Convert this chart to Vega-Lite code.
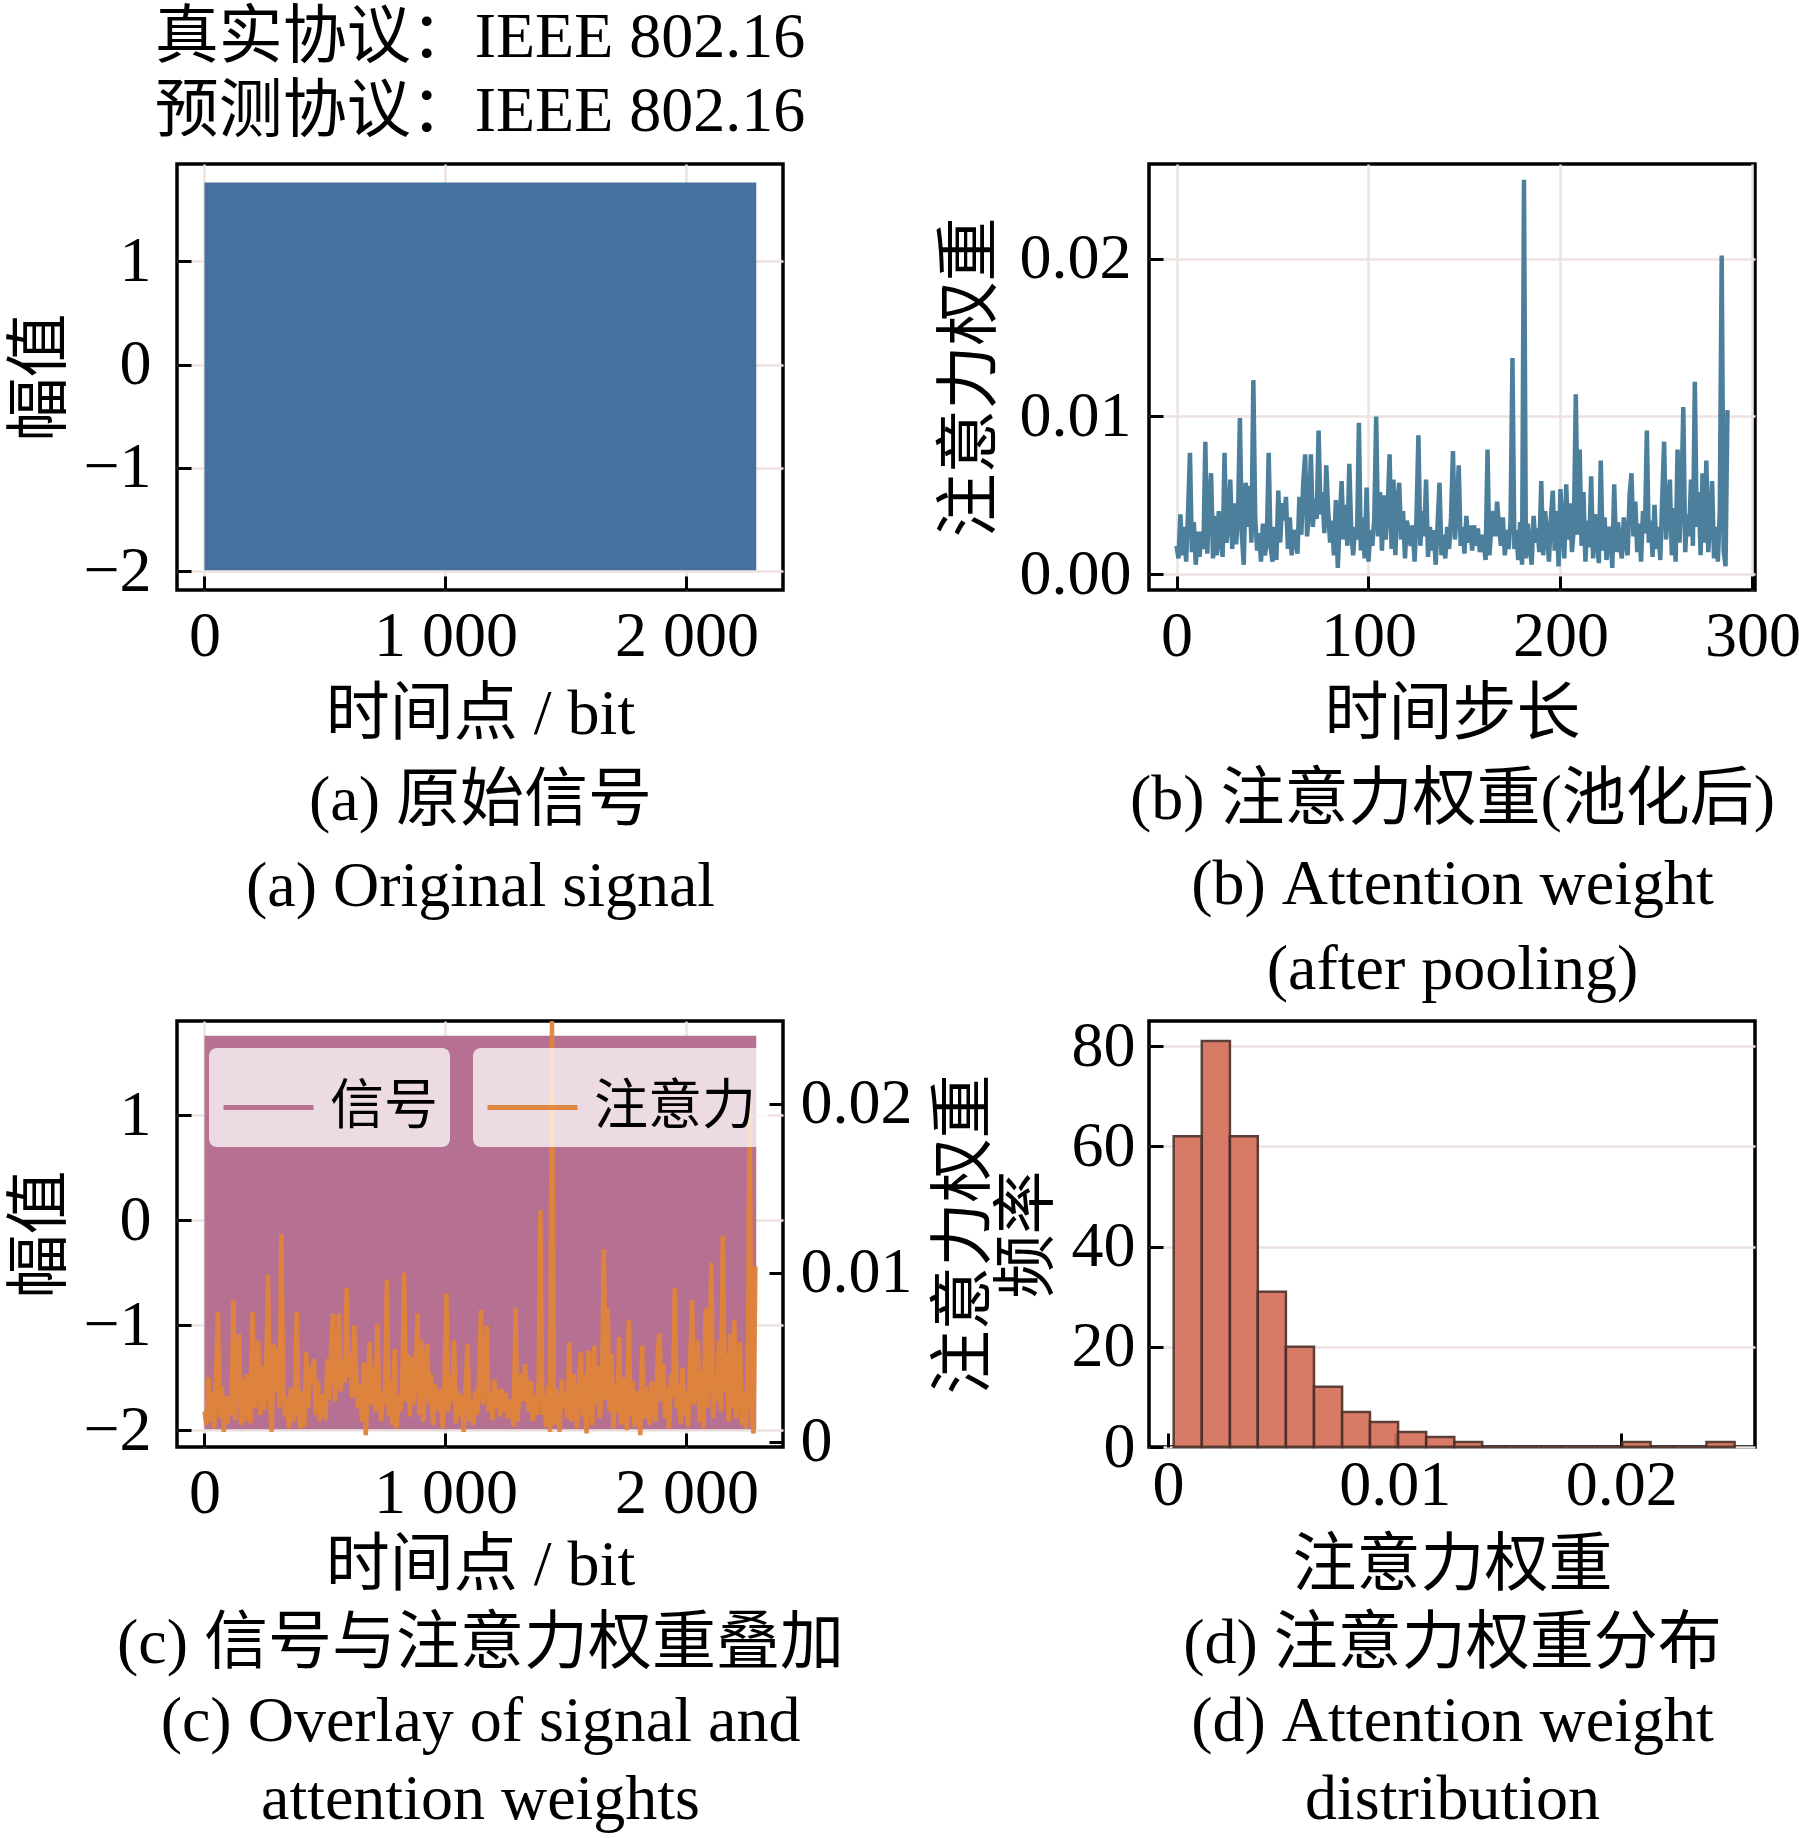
{
  "$schema": "https://vega.github.io/schema/vega-lite/v6.json",
  "background": "white",
  "padding": {"left": 6, "top": 4, "right": 0, "bottom": 0},
  "columns": 2,
  "spacing": {"column": 366, "row": 431},
  "bounds": "flush",
  "resolve": {"legend": {"fill": "independent", "stroke": "independent"}},
  "datasets": {
    "sig": [
      {"t": 0, "lo": -1.99, "hi": 1.76},
      {"t": 2290, "lo": -1.99, "hi": 1.76}
    ],
    "attn": [
      {"s":0,"w":0.0018},{"s":1,"w":0.0010},{"s":2,"w":0.0038},{"s":3,"w":0.0012},{"s":4,"w":0.0030},
      {"s":5,"w":0.0008},{"s":6,"w":0.0040},{"s":7,"w":0.0077},{"s":8,"w":0.0014},{"s":9,"w":0.0033},
      {"s":10,"w":0.0006},{"s":11,"w":0.0027},{"s":12,"w":0.0011},{"s":13,"w":0.0027},{"s":14,"w":0.0016},
      {"s":15,"w":0.0084},{"s":16,"w":0.0013},{"s":17,"w":0.0044},{"s":18,"w":0.0064},{"s":19,"w":0.0010},
      {"s":20,"w":0.0037},{"s":21,"w":0.0012},{"s":22,"w":0.0040},{"s":23,"w":0.0022},{"s":24,"w":0.0011},
      {"s":25,"w":0.0077},{"s":26,"w":0.0020},{"s":27,"w":0.0030},{"s":28,"w":0.0060},{"s":29,"w":0.0016},
      {"s":30,"w":0.0045},{"s":31,"w":0.0019},{"s":32,"w":0.0035},{"s":33,"w":0.0099},{"s":34,"w":0.0025},
      {"s":35,"w":0.0006},{"s":36,"w":0.0058},{"s":37,"w":0.0030},{"s":38,"w":0.0056},{"s":39,"w":0.0020},
      {"s":40,"w":0.0123},{"s":41,"w":0.0035},{"s":42,"w":0.0015},{"s":43,"w":0.0026},{"s":44,"w":0.0008},
      {"s":45,"w":0.0032},{"s":46,"w":0.0012},{"s":47,"w":0.0020},{"s":48,"w":0.0077},{"s":49,"w":0.0017},
      {"s":50,"w":0.0008},{"s":51,"w":0.0030},{"s":52,"w":0.0009},{"s":53,"w":0.0053},{"s":54,"w":0.0020},
      {"s":55,"w":0.0045},{"s":56,"w":0.0034},{"s":57,"w":0.0049},{"s":58,"w":0.0016},{"s":59,"w":0.0036},
      {"s":60,"w":0.0012},{"s":61,"w":0.0028},{"s":62,"w":0.0024},{"s":63,"w":0.0013},{"s":64,"w":0.0049},
      {"s":65,"w":0.0025},{"s":66,"w":0.0058},{"s":67,"w":0.0076},{"s":68,"w":0.0024},{"s":69,"w":0.0040},
      {"s":70,"w":0.0076},{"s":71,"w":0.0030},{"s":72,"w":0.0048},{"s":73,"w":0.0035},{"s":74,"w":0.0091},
      {"s":75,"w":0.0038},{"s":76,"w":0.0052},{"s":77,"w":0.0026},{"s":78,"w":0.0069},{"s":79,"w":0.0040},
      {"s":80,"w":0.0020},{"s":81,"w":0.0034},{"s":82,"w":0.0012},{"s":83,"w":0.0047},{"s":84,"w":0.0004},
      {"s":85,"w":0.0033},{"s":86,"w":0.0059},{"s":87,"w":0.0022},{"s":88,"w":0.0044},{"s":89,"w":0.0018},
      {"s":90,"w":0.0070},{"s":91,"w":0.0028},{"s":92,"w":0.0012},{"s":93,"w":0.0030},{"s":94,"w":0.0022},
      {"s":95,"w":0.0096},{"s":96,"w":0.0015},{"s":97,"w":0.0036},{"s":98,"w":0.0010},{"s":99,"w":0.0055},
      {"s":100,"w":0.0008},{"s":101,"w":0.0028},{"s":102,"w":0.0018},{"s":103,"w":0.0035},{"s":104,"w":0.0100},
      {"s":105,"w":0.0024},{"s":106,"w":0.0052},{"s":107,"w":0.0015},{"s":108,"w":0.0050},{"s":109,"w":0.0022},
      {"s":110,"w":0.0042},{"s":111,"w":0.0076},{"s":112,"w":0.0016},{"s":113,"w":0.0060},{"s":114,"w":0.0012},
      {"s":115,"w":0.0045},{"s":116,"w":0.0058},{"s":117,"w":0.0022},{"s":118,"w":0.0040},{"s":119,"w":0.0010},
      {"s":120,"w":0.0034},{"s":121,"w":0.0026},{"s":122,"w":0.0018},{"s":123,"w":0.0031},{"s":124,"w":0.0008},
      {"s":125,"w":0.0036},{"s":126,"w":0.0088},{"s":127,"w":0.0018},{"s":128,"w":0.0040},{"s":129,"w":0.0024},
      {"s":130,"w":0.0060},{"s":131,"w":0.0011},{"s":132,"w":0.0030},{"s":133,"w":0.0015},{"s":134,"w":0.0028},
      {"s":135,"w":0.0006},{"s":136,"w":0.0032},{"s":137,"w":0.0058},{"s":138,"w":0.0012},{"s":139,"w":0.0025},
      {"s":140,"w":0.0010},{"s":141,"w":0.0030},{"s":142,"w":0.0016},{"s":143,"w":0.0036},{"s":144,"w":0.0078},
      {"s":145,"w":0.0022},{"s":146,"w":0.0040},{"s":147,"w":0.0069},{"s":148,"w":0.0018},{"s":149,"w":0.0030},
      {"s":150,"w":0.0013},{"s":151,"w":0.0037},{"s":152,"w":0.0020},{"s":153,"w":0.0031},{"s":154,"w":0.0015},
      {"s":155,"w":0.0031},{"s":156,"w":0.0018},{"s":157,"w":0.0029},{"s":158,"w":0.0014},{"s":159,"w":0.0025},
      {"s":160,"w":0.0020},{"s":161,"w":0.0009},{"s":162,"w":0.0079},{"s":163,"w":0.0012},{"s":164,"w":0.0030},
      {"s":165,"w":0.0040},{"s":166,"w":0.0024},{"s":167,"w":0.0046},{"s":168,"w":0.0030},{"s":169,"w":0.0018},
      {"s":170,"w":0.0036},{"s":171,"w":0.0012},{"s":172,"w":0.0028},{"s":173,"w":0.0016},{"s":174,"w":0.0034},
      {"s":175,"w":0.0137},{"s":176,"w":0.0016},{"s":177,"w":0.0028},{"s":178,"w":0.0009},{"s":179,"w":0.0033},
      {"s":180,"w":0.0006},{"s":181,"w":0.0250},{"s":182,"w":0.0010},{"s":183,"w":0.0032},{"s":184,"w":0.0018},
      {"s":185,"w":0.0006},{"s":186,"w":0.0037},{"s":187,"w":0.0020},{"s":188,"w":0.0029},{"s":189,"w":0.0014},
      {"s":190,"w":0.0059},{"s":191,"w":0.0012},{"s":192,"w":0.0040},{"s":193,"w":0.0026},{"s":194,"w":0.0008},
      {"s":195,"w":0.0035},{"s":196,"w":0.0053},{"s":197,"w":0.0015},{"s":198,"w":0.0040},{"s":199,"w":0.0005},
      {"s":200,"w":0.0054},{"s":201,"w":0.0028},{"s":202,"w":0.0010},{"s":203,"w":0.0057},{"s":204,"w":0.0022},
      {"s":205,"w":0.0045},{"s":206,"w":0.0014},{"s":207,"w":0.0030},{"s":208,"w":0.0114},{"s":209,"w":0.0025},
      {"s":210,"w":0.0079},{"s":211,"w":0.0018},{"s":212,"w":0.0052},{"s":213,"w":0.0008},{"s":214,"w":0.0034},
      {"s":215,"w":0.0017},{"s":216,"w":0.0062},{"s":217,"w":0.0010},{"s":218,"w":0.0038},{"s":219,"w":0.0022},
      {"s":220,"w":0.0007},{"s":221,"w":0.0072},{"s":222,"w":0.0015},{"s":223,"w":0.0036},{"s":224,"w":0.0009},
      {"s":225,"w":0.0030},{"s":226,"w":0.0025},{"s":227,"w":0.0004},{"s":228,"w":0.0057},{"s":229,"w":0.0014},
      {"s":230,"w":0.0033},{"s":231,"w":0.0018},{"s":232,"w":0.0010},{"s":233,"w":0.0036},{"s":234,"w":0.0020},
      {"s":235,"w":0.0012},{"s":236,"w":0.0050},{"s":237,"w":0.0064},{"s":238,"w":0.0024},{"s":239,"w":0.0046},
      {"s":240,"w":0.0014},{"s":241,"w":0.0032},{"s":242,"w":0.0008},{"s":243,"w":0.0040},{"s":244,"w":0.0026},
      {"s":245,"w":0.0091},{"s":246,"w":0.0020},{"s":247,"w":0.0034},{"s":248,"w":0.0011},{"s":249,"w":0.0044},
      {"s":250,"w":0.0016},{"s":251,"w":0.0030},{"s":252,"w":0.0009},{"s":253,"w":0.0048},{"s":254,"w":0.0084},
      {"s":255,"w":0.0022},{"s":256,"w":0.0040},{"s":257,"w":0.0060},{"s":258,"w":0.0012},{"s":259,"w":0.0042},
      {"s":260,"w":0.0008},{"s":261,"w":0.0079},{"s":262,"w":0.0020},{"s":263,"w":0.0048},{"s":264,"w":0.0106},
      {"s":265,"w":0.0014},{"s":266,"w":0.0038},{"s":267,"w":0.0024},{"s":268,"w":0.0060},{"s":269,"w":0.0018},
      {"s":270,"w":0.0122},{"s":271,"w":0.0030},{"s":272,"w":0.0052},{"s":273,"w":0.0012},{"s":274,"w":0.0064},
      {"s":275,"w":0.0020},{"s":276,"w":0.0072},{"s":277,"w":0.0014},{"s":278,"w":0.0035},{"s":279,"w":0.0059},
      {"s":280,"w":0.0010},{"s":281,"w":0.0030},{"s":282,"w":0.0008},{"s":283,"w":0.0040},{"s":284,"w":0.0202},
      {"s":285,"w":0.0015},{"s":286,"w":0.0005},{"s":287,"w":0.0104}
    ],
    "hist": [
      {"b0":0.00025,"b1":0.00149,"n":62},
      {"b0":0.00149,"b1":0.00273,"n":81},
      {"b0":0.00273,"b1":0.00396,"n":62},
      {"b0":0.00396,"b1":0.00520,"n":31},
      {"b0":0.00520,"b1":0.00644,"n":20},
      {"b0":0.00644,"b1":0.00768,"n":12},
      {"b0":0.00768,"b1":0.00891,"n":7},
      {"b0":0.00891,"b1":0.01015,"n":5},
      {"b0":0.01015,"b1":0.01139,"n":3},
      {"b0":0.01139,"b1":0.01263,"n":2},
      {"b0":0.01263,"b1":0.01386,"n":1},
      {"b0":0.01386,"b1":0.01510,"n":0},
      {"b0":0.01510,"b1":0.01634,"n":0},
      {"b0":0.01634,"b1":0.01758,"n":0},
      {"b0":0.01758,"b1":0.01881,"n":0},
      {"b0":0.01881,"b1":0.02005,"n":0},
      {"b0":0.02005,"b1":0.02129,"n":1},
      {"b0":0.02129,"b1":0.02253,"n":0},
      {"b0":0.02253,"b1":0.02376,"n":0},
      {"b0":0.02376,"b1":0.02500,"n":1}
    ]
  },
  "concat": [
    {
      "width": 606,
      "height": 426,
      "title": {"text": ["真实协议：IEEE 802.16", "预测协议：IEEE 802.16"], "offset": 20},
      "data": {"name": "sig"},
      "mark": {"type": "area", "color": "#46709f", "clip": true},
      "encoding": {
        "x": {
          "field": "t", "type": "quantitative",
          "scale": {"domain": [-114, 2401], "nice": false, "zero": false},
          "axis": {
            "values": [0, 1000, 2000], "labelPadding": 28,
            "labelExpr": "replace(format(datum.value, ','), ',', ' ')",
            "title": ["时间点 / bit", "(a) 原始信号", "(a) Original signal"],
            "titleBaseline": "top", "titleY": 92, "titleLineHeight": 86
          }
        },
        "y": {
          "field": "hi", "type": "quantitative",
          "scale": {"domain": [-2.18, 1.94], "nice": false, "zero": false},
          "axis": {"values": [-2, -1, 0, 1], "title": "幅值", "titleBaseline": "bottom", "titleX": -105}
        },
        "y2": {"field": "lo"}
      }
    },
    {
      "width": 606,
      "height": 426,
      "data": {"name": "attn"},
      "mark": {"type": "line", "color": "#4b7f9c", "strokeWidth": 4.5, "strokeJoin": "miter", "clip": true},
      "encoding": {
        "x": {
          "field": "s", "type": "quantitative",
          "scale": {"domain": [-14.35, 301.35], "nice": false, "zero": false},
          "axis": {
            "values": [0, 100, 200, 300], "labelPadding": 28,
            "title": ["时间步长", "(b) 注意力权重(池化后)", "(b) Attention weight", "(after pooling)"],
            "titleBaseline": "top", "titleY": 92, "titleLineHeight": 85
          }
        },
        "y": {
          "field": "w", "type": "quantitative",
          "scale": {"domain": [-0.001, 0.026], "nice": false, "zero": false},
          "axis": {"values": [0, 0.01, 0.02], "format": ".2f", "labelPadding": 32, "title": "注意力权重", "titleBaseline": "bottom", "titleX": -147}
        }
      }
    },
    {
      "width": 606,
      "height": 426,
      "layer": [
        {
          "data": {"name": "sig"},
          "mark": {"type": "area", "clip": true},
          "encoding": {
            "x": {
              "field": "t", "type": "quantitative",
              "scale": {"domain": [-114, 2401], "nice": false, "zero": false},
              "axis": {
                "values": [0, 1000, 2000], "labelPadding": 28,
                "labelExpr": "replace(format(datum.value, ','), ',', ' ')",
                "title": ["时间点 / bit", "(c) 信号与注意力权重叠加", "(c) Overlay of signal and", "attention weights"],
                "titleBaseline": "top", "titleY": 86, "titleLineHeight": 78
              }
            },
            "y": {
              "field": "hi", "type": "quantitative",
              "scale": {"domain": [-2.16, 1.9], "nice": false, "zero": false},
              "axis": {"values": [-2, -1, 0, 1], "title": "幅值", "titleBaseline": "bottom", "titleX": -105}
            },
            "y2": {"field": "lo"},
            "fill": {
              "datum": "信号", "type": "nominal",
              "scale": {"range": ["#b67092"]},
              "legend": {
                "title": null, "orient": "none", "legendX": 32, "legendY": 27,
                "symbolType": "stroke", "symbolStrokeColor": "#b67092", "symbolStrokeWidth": 5, "symbolSize": 8100,
                "fillColor": "rgba(255,255,255,0.75)", "cornerRadius": 8, "padding": 12, "labelOffset": 14,
                "labelLimit": 0, "labelFontSize": 54
              }
            }
          }
        },
        {
          "data": {"name": "attn"},
          "mark": {"type": "line", "strokeWidth": 4.5, "opacity": 0.95, "clip": true},
          "encoding": {
            "x": {
              "field": "s", "type": "quantitative",
              "scale": {"domain": [-14.35, 301.35], "nice": false, "zero": false},
              "axis": null
            },
            "y": {
              "field": "w", "type": "quantitative",
              "scale": {"domain": [-0.0003, 0.0249], "nice": false, "zero": false},
              "axis": {
                "orient": "right", "values": [0, 0.01, 0.02], "grid": false, "labelPadding": 31,
                "labelExpr": "datum.value == 0 ? '0' : format(datum.value, '.2f')",
                "title": "注意力权重", "titleAngle": -90, "titleBaseline": "top", "titleX": 149
              }
            },
            "stroke": {
              "datum": "注意力", "type": "nominal",
              "scale": {"range": ["#e0843a"]},
              "legend": {
                "title": null, "orient": "none", "legendX": 296, "legendY": 27,
                "symbolType": "stroke", "symbolStrokeWidth": 5, "symbolSize": 8100,
                "fillColor": "rgba(255,255,255,0.75)", "cornerRadius": 8, "padding": 12, "labelOffset": 14,
                "labelLimit": 0, "labelFontSize": 54
              }
            }
          }
        }
      ],
      "resolve": {"scale": {"x": "independent", "y": "independent"}}
    },
    {
      "width": 606,
      "height": 426,
      "data": {"name": "hist"},
      "mark": {"type": "rect", "color": "#d4705b", "stroke": "#4f3028", "strokeWidth": 2.5, "opacity": 0.92},
      "encoding": {
        "x": {
          "field": "b0", "type": "quantitative",
          "scale": {"domain": [-0.00084, 0.0259], "nice": false, "zero": false},
          "axis": {
            "values": [0, 0.01, 0.02], "grid": false, "labelPadding": 20,
            "labelExpr": "datum.value == 0 ? '0' : format(datum.value, '.2f')",
            "title": ["注意力权重", "(d) 注意力权重分布", "(d) Attention weight", "distribution"],
            "titleBaseline": "top", "titleY": 86, "titleLineHeight": 78
          }
        },
        "x2": {"field": "b1"},
        "y": {
          "field": "n", "type": "quantitative",
          "scale": {"domain": [0, 85], "nice": false},
          "axis": {"values": [0, 20, 40, 60, 80], "labelPadding": 28, "title": "频率", "titleBaseline": "bottom", "titleX": -90}
        },
        "y2": {"datum": 0}
      }
    }
  ],
  "config": {
    "font": "Liberation Serif, Noto Sans CJK SC",
    "view": {"stroke": "black", "strokeWidth": 3.5},
    "title": {"font": "Liberation Serif, Noto Sans CJK SC", "fontSize": 64, "fontWeight": "normal", "color": "black", "lineHeight": 74, "anchor": "middle"},
    "axis": {
      "domain": false,
      "tickColor": "black", "tickWidth": 3, "tickSize": -14,
      "labelPadding": 40,
      "labelFont": "Liberation Serif, Noto Sans CJK SC", "labelFontSize": 64, "labelColor": "black",
      "labelFlush": false, "labelOverlap": false, "labelBound": false,
      "titleFont": "Liberation Serif, Noto Sans CJK SC", "titleFontSize": 64, "titleFontWeight": "normal", "titleColor": "black",
      "grid": true, "gridColor": "#ece3e1", "gridWidth": 2.5, "zindex": 0
    },
    "legend": {
      "labelFont": "Liberation Serif, Noto Sans CJK SC", "labelFontSize": 54, "labelColor": "black"
    }
  }
}
